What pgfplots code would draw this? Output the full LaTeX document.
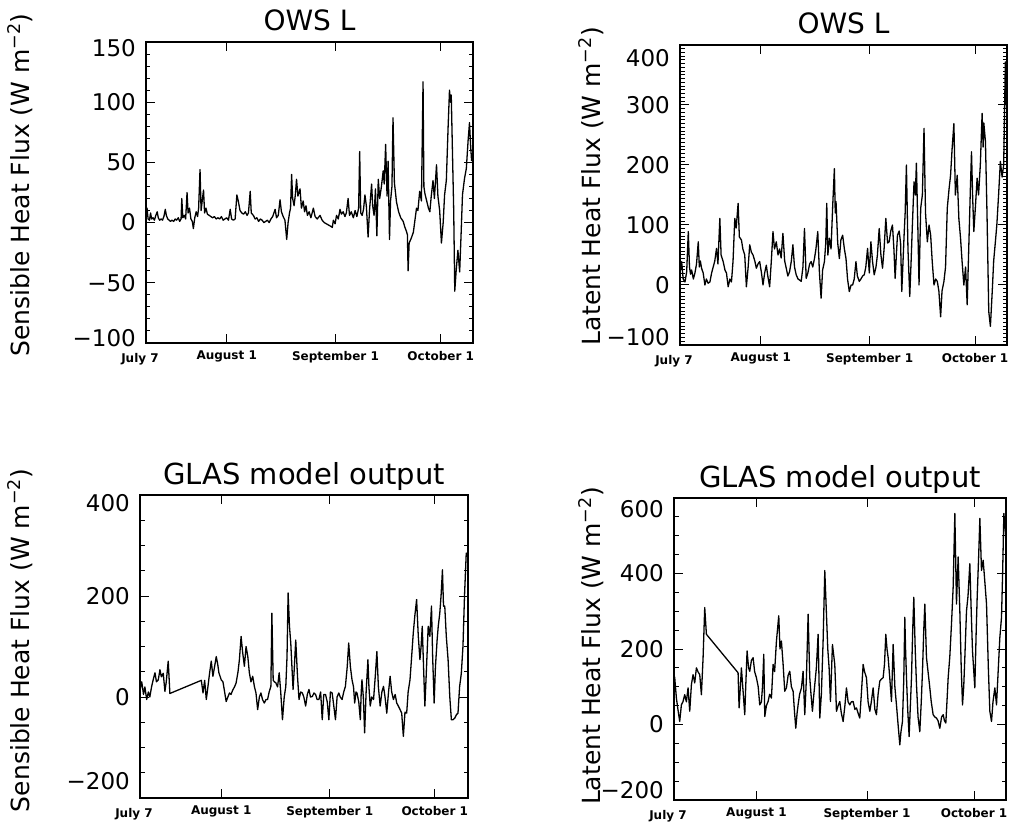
\documentclass[border=0pt]{standalone}
\usepackage{fontspec}
\setmainfont{DejaVu Sans}
\usepackage{pgfplots}
\pgfplotsset{compat=1.18}

\pgfplotstableread{
x y
8.0 5
8.3 12
8.6 3
9.0 2
9.3 8
9.6 3
10.0 4
10.4 2
10.8 6
11.2 9
11.5 4
11.9 2
12.3 3
12.7 2
13.1 5
13.5 11
13.8 6
14.2 3
14.6 2
15.0 1
15.4 2
15.9 1
16.3 3
16.7 2
17.2 4
17.6 1
18.0 3
18.2 20
18.5 4
18.9 6
19.3 3
19.7 25
20.0 8
20.4 12
20.8 3
21.2 1
21.5 -5
21.9 4
22.3 9
22.7 5
23.0 12
23.4 44
23.7 10
24.1 20
24.4 27
24.7 8
25.1 12
25.5 7
26.0 6
26.5 5
27.0 4
27.5 5
28.0 3
28.5 4
29.0 3
29.5 5
30.0 2
30.5 3
31.0 4
31.5 2
32.0 11
32.4 3
32.9 2
33.4 3
33.9 23
34.3 18
34.8 10
35.3 8
35.8 7
36.3 9
36.8 6
37.2 8
37.7 26
38.0 8
38.6 6
39.1 3
39.6 4
40.1 1
40.6 3
41.1 2
41.6 0
42.1 1
42.6 2
43.1 0
43.6 3
44.1 5
44.8 11
45.2 4
45.7 6
46.2 19
46.6 9
47.1 5
47.6 2
48.1 -14
48.5 0
48.9 8
49.2 12
49.5 40
49.8 20
50.2 14
50.6 24
50.9 36
51.3 22
51.9 28
52.3 12
52.8 18
53.2 9
53.6 14
54.0 6
54.5 9
55.0 4
55.7 12
56.2 5
56.8 3
57.6 6
58.2 2
58.8 0
59.4 -1
60.0 -2
60.6 -3
61.1 -4
61.4 2
61.9 -1
62.3 6
62.8 3
63.3 11
63.7 7
64.2 9
64.7 5
65.1 8
65.6 20
66.0 6
66.5 9
67.1 4
67.6 10
68.1 5
68.6 12
68.9 59
69.2 8
69.6 6
70.0 11
70.4 23
70.8 14
71.3 -12
71.7 10
72.3 32
72.6 14
73.0 6
73.4 28
73.8 -11
74.2 36
74.6 20
75.1 30
75.6 43
75.9 32
76.3 65
76.7 22
77.0 51
77.4 -14
77.7 18
78.1 30
78.4 87
78.8 33
79.4 17
80.0 9
80.6 4
81.3 1
81.8 -4
82.2 -7
82.5 -10
82.7 -40
83.0 -17
83.6 -13
84.2 -8
85.1 12
85.5 10
86.0 26
86.5 18
86.96 117
87.2 30
87.5 24
88.0 18
88.5 12
88.9 9
89.3 22
89.8 35
90.2 20
90.8 48
91.2 22
91.7 10
92.2 -17
92.7 0
93.1 23
93.6 35
94.1 79
94.5 110
94.8 100
95.0 106
95.4 51
95.7 10
96.0 -57
96.4 -40
96.9 -23
97.4 -41
97.8 -10
98.2 23
98.8 37
99.3 45
99.8 68
100.2 83
100.5 65
100.8 51
}\owsSH

\pgfplotstableread{
x y
8.0 20
8.47 39
8.9 10
9.42 5
9.9 22
10.36 89
10.7 30
11.0 18
11.31 25
11.8 10
12.25 20
12.7 35
13.20 72
13.5 30
13.8 40
14.14 28
14.6 20
15.09 0
15.5 10
16.0 3
16.51 5
17.0 20
17.45 30
17.9 40
18.40 61
18.8 35
19.34 111
19.7 50
20.29 39
20.8 25
21.23 20
21.71 -3
22.2 10
22.65 5
23.1 40
23.60 111
24.0 95
24.54 136
24.9 80
25.49 75
25.9 60
26.43 50
26.90 -3
27.4 30
27.85 67
28.3 55
28.79 50
29.3 40
29.74 28
30.2 35
30.68 39
31.2 20
31.63 0
32.1 20
32.57 33
33.0 15
33.52 -3
34.0 40
34.47 89
34.9 60
35.41 72
35.9 50
36.36 60
36.8 45
37.30 86
37.8 40
38.25 28
38.7 15
39.19 22
39.7 40
40.14 67
40.6 30
41.08 17
41.6 10
42.1 8
42.50 6
43.0 30
43.44 94
43.92 11
44.4 20
44.9 35
45.33 39
45.8 30
46.28 44
46.7 60
47.22 89
47.7 20
48.17 -22
48.6 25
49.12 39
49.5 70
49.78 136
50.1 50
50.53 78
51.0 60
51.48 133
51.95 194
52.2 120
52.42 139
52.9 70
53.37 44
53.8 75
54.31 83
54.8 60
55.26 44
55.7 10
56.20 -11
56.7 0
57.15 0
57.6 10
58.09 39
58.5 15
59.04 6
59.5 10
60.0 15
60.46 17
60.9 30
61.40 61
61.9 20
62.35 72
62.8 40
63.29 17
63.8 30
64.2 50
64.71 94
65.2 50
65.66 28
66.1 60
66.60 111
67.1 70
67.55 72
68.0 90
68.49 100
68.9 60
69.25 11
69.6 50
69.91 83
70.4 90
70.8 70
71.14 -11
71.5 40
71.80 83
72.1 120
72.46 200
72.9 60
73.41 -19
73.8 40
74.16 100
74.63 172
75.0 150
75.30 203
75.7 100
76.05 0
76.53 128
77.0 150
77.47 261
77.9 120
78.42 72
78.9 100
79.36 83
79.8 40
80.31 0
80.8 10
81.25 6
81.7 -10
82.20 -53
82.6 -10
83.14 6
83.6 30
84.09 128
84.6 160
85.03 183
85.5 230
85.98 269
86.4 150
86.92 183
87.4 110
87.87 78
88.3 40
88.81 0
89.3 30
89.76 -33
90.2 60
90.70 167
90.99 222
91.3 150
91.65 89
92.1 130
92.59 178
93.0 150
93.5 200
94.01 286
94.3 230
94.5 270
94.96 239
95.4 120
95.90 -44
96.37 -69
96.9 -10
97.3 40
97.79 72
98.2 100
98.7 150
99.21 206
99.7 180
100.15 200
100.63 372
100.9 300
}\owsLH

\pgfplotstableread{
x y
7.82 14
8.3 30
8.8 5
9.2 20
9.71 -5
10.2 10
10.6 0
11.13 21
11.6 35
12.08 48
12.5 30
13.02 34
13.50 54
13.9 40
14.44 47
14.92 11
15.3 30
15.86 71
16.34 7
25.32 33
25.80 8
26.27 33
26.74 -5
27.2 20
27.69 48
28.16 71
28.63 41
29.1 60
29.58 80
30.0 65
30.34 48
31.00 34
31.5 30
31.95 11
32.42 -9
32.9 0
33.37 8
33.8 5
34.31 14
34.8 20
35.26 28
35.8 50
36.20 74
36.68 120
37.1 90
37.62 61
38.10 100
38.6 80
39.04 48
39.5 30
39.99 41
40.5 20
40.93 8
41.41 -25
41.9 0
42.35 8
42.8 -5
43.30 -12
43.8 -5
44.24 -5
44.7 10
45.19 21
45.47 166
45.85 33
46.2 30
46.61 28
47.1 20
47.56 48
48.0 10
48.50 -45
49.0 0
49.45 21
49.8 80
50.11 206
50.5 140
50.87 107
51.2 60
51.53 15
51.9 60
52.29 113
52.8 40
53.23 -5
53.7 10
54.18 8
54.6 0
55.12 -18
55.6 5
56.07 15
56.5 0
57.02 1
57.5 8
57.96 5
58.4 -5
58.91 -5
59.4 10
59.86 -45
60.3 5
60.80 5
61.3 -10
61.75 -45
62.2 10
62.69 8
63.2 -20
63.64 -45
64.1 0
64.59 8
65.0 0
65.53 -5
66.0 10
66.48 21
67.0 60
67.42 107
67.9 60
68.37 34
68.8 20
69.13 -12
69.5 10
69.79 8
70.3 -10
70.74 -45
71.0 10
71.21 34
71.6 0
71.97 -71
72.4 10
72.91 74
73.2 20
73.57 -18
74.0 0
74.52 -5
75.0 40
75.47 90
75.9 20
76.41 -18
76.9 10
77.36 21
77.8 0
78.30 -32
78.8 10
79.25 41
79.7 10
80.20 -5
80.7 5
81.14 -12
81.61 -18
82.1 -25
82.56 -32
83.03 -78
83.5 -30
83.98 -32
84.4 10
84.93 34
85.4 80
85.87 127
86.3 160
86.82 193
87.3 120
87.77 74
88.1 100
88.43 140
88.8 60
89.18 -18
89.6 50
90.13 140
90.6 120
91.07 180
91.4 80
91.83 -12
92.2 60
92.68 113
93.0 140
93.44 166
93.8 200
94.20 252
94.5 180
94.86 180
95.3 120
95.81 74
96.3 0
96.75 -45
97.2 -45
97.70 -42
98.2 -35
98.64 -32
99.1 20
99.59 47
100.06 100
100.5 200
101.0 285
101.3 279
}\glasSH

\pgfplotstableread{
x y
7.9 130
8.10 124
8.57 70
9.0 40
9.50 8
9.97 52
10.4 60
10.91 79
11.37 60
11.84 97
12.31 35
12.78 106
13.24 132
13.71 110
14.18 150
14.6 140
15.11 132
15.58 79
16.05 177
16.51 310
16.98 239
25.86 137
26.14 44
26.5 100
26.79 150
27.26 88
27.73 26
28.0 100
28.38 195
28.8 150
29.13 141
29.6 170
30.07 177
30.5 140
31.00 124
31.5 100
31.93 52
32.40 60
32.7 100
33.06 186
33.34 21
33.8 50
34.27 61
34.7 80
35.21 70
35.67 159
36.1 140
36.61 221
37.26 288
37.6 200
38.01 221
38.48 159
38.94 88
39.41 97
39.88 130
40.35 141
40.8 100
41.28 88
41.7 30
42.03 -10
42.4 30
42.68 52
43.1 80
43.62 97
44.08 141
44.55 26
45.0 120
45.49 292
45.95 124
46.3 80
46.70 35
47.0 70
47.36 106
47.8 150
48.29 239
48.76 17
49.2 80
49.69 221
50.16 408
50.63 292
51.0 200
51.37 150
51.75 61
52.31 212
52.96 159
53.2 100
53.43 35
53.9 50
54.36 61
54.8 30
55.30 8
55.8 50
56.23 97
56.7 60
57.17 52
57.6 60
58.10 61
58.6 40
59.04 44
59.5 30
59.97 17
60.4 80
60.91 159
61.3 140
61.84 124
62.3 60
62.78 35
63.2 60
63.71 97
64.2 40
64.64 26
65.1 80
65.58 115
66.0 120
66.51 124
66.9 160
67.26 239
67.6 200
67.92 177
68.4 120
68.85 61
69.32 212
69.8 100
70.25 52
70.7 0
71.19 -54
71.5 -20
71.93 8
72.3 120
72.59 284
72.8 200
73.06 124
73.4 40
73.80 -32
74.1 40
74.46 124
74.8 250
75.11 337
75.5 200
75.86 106
76.3 20
76.79 -19
77.2 60
77.54 141
77.9 250
78.20 319
78.66 177
79.1 140
79.60 97
80.0 60
80.53 26
81.0 20
81.47 17
81.9 10
82.40 -10
82.9 20
83.34 26
83.7 10
84.08 4
84.4 60
84.74 124
85.2 180
85.67 266
86.14 364
86.61 559
87.07 319
87.54 444
88.01 301
88.4 150
88.76 52
89.1 100
89.41 177
89.88 301
90.3 340
90.81 426
91.2 300
91.56 195
92.21 97
92.6 250
92.87 337
93.3 450
93.62 546
94.08 408
94.55 435
95.0 380
95.49 319
96.0 150
96.42 35
96.89 8
97.3 60
97.82 97
98.29 52
98.8 150
99.22 230
99.69 284
100.0 400
100.35 559
100.91 497
}\glasLH

\pgfplotsset{
  panel/.style={
    scale only axis,
    tick pos=both,
    tick align=inside,
    axis line style={line width=1.4pt},
    every tick/.style={black, line width=1pt},
    major tick length=9pt,
    minor tick length=4.5pt,
    xtick={31,62,92},
    xticklabels={August 1,September 1,October 1},
    minor x tick num=0,
    xticklabel style={font=\fontsize{12}{14}\selectfont\bfseries, inner sep=0pt, yshift=-8pt},
    extra x tick labels={July 7},
    extra x tick style={major tick length=0pt, xticklabel style={xshift=-6pt, yshift=-2pt}},
    yticklabel style={font=\fontsize{23}{26}\selectfont, inner sep=0pt, xshift=-10pt},
    ylabel style={font=\fontsize{25}{28}\selectfont, anchor=center},
    title style={font=\fontsize{28}{32}\selectfont, at={(axis description cs:0.5,1)}, anchor=base, yshift=5pt},
  },
  curve/.style={black, mark=none, line width=1.3pt, line join=round},
}
% labels of the end ticks, set apart from the ticks as in the reference
\newcommand{\rl}[2]{\raisebox{#1}[0pt][0pt]{#2}}

\begin{document}
\begin{tikzpicture}
\useasboundingbox (0pt,0pt) rectangle (1012pt,828pt);

% Top-left
\begin{axis}[panel,
  at={(146pt,485pt)}, anchor=south west,
  width=327pt, height=301pt,
  xmin=8, xmax=101.2, ymin=-100, ymax=150,
  extra x ticks={8},
  ytick={-50,0,50,100},
  yticklabels={−50,0,50,100},
  extra y ticks={-100,150},
  extra y tick labels={\rl{-3.4pt}{−100},\rl{-14.4pt}{150}},
  minor ytick={-90,-80,...,140},
  title={OWS L},
  ylabel={Sensible Heat Flux (W m\textsuperscript{−2})},
  ylabel style={at={(axis description cs:-0.385,0.525)}},
]
\addplot[curve] table {\owsSH};
\end{axis}

% Top-right
\begin{axis}[panel,
  at={(680pt,483pt)}, anchor=south west,
  width=327pt, height=300pt,
  xmin=8, xmax=101.1, ymin=-100, ymax=400,
  extra x ticks={8},
  ytick={0,100,200,300},
  yticklabels={0,100,200,300},
  extra y ticks={-100,400},
  extra y tick labels={\rl{-0.4pt}{−100},\rl{-22pt}{400}},
  minor ytick={-100,-93.75,...,400},
  title={OWS L},
  ylabel={Latent Heat Flux (W m\textsuperscript{−2})},
  ylabel style={at={(axis description cs:-0.272,0.53)}},
]
\addplot[curve] table {\owsLH};
\end{axis}

% Bottom-left
\begin{axis}[panel,
  at={(140pt,30pt)}, anchor=south west,
  width=328pt, height=303pt,
  xmin=7.8, xmax=101.5, ymin=-200, ymax=400,
  extra x ticks={7.8},
  ytick={0,200},
  yticklabels={0,200},
  extra y ticks={-200,400},
  extra y tick labels={\rl{8.6pt}{−200},\rl{-16.4pt}{400}},
  minor ytick={-150,-100,...,350},
  title={GLAS model output},
  title style={font=\fontsize{29}{32}\selectfont},
  ylabel={Sensible Heat Flux (W m\textsuperscript{−2})},
  ylabel style={at={(axis description cs:-0.366,0.52)}},
]
\addplot[curve] table {\glasSH};
\end{axis}

% Bottom-right
\begin{axis}[panel,
  at={(674pt,28pt)}, anchor=south west,
  width=332pt, height=302pt,
  xmin=7.9, xmax=100.95, ymin=-200, ymax=600,
  extra x ticks={7.9},
  ytick={0,200,400},
  yticklabels={0,200,400},
  extra y ticks={-200,600},
  extra y tick labels={\rl{1.6pt}{−200},\rl{-19.4pt}{600}},
  minor ytick={-150,-100,...,550},
  title={GLAS model output},
  title style={font=\fontsize{29}{32}\selectfont},
  ylabel={Latent Heat Flux (W m\textsuperscript{−2})},
  ylabel style={at={(axis description cs:-0.25,0.51)}},
]
\addplot[curve] table {\glasLH};
\end{axis}
\end{tikzpicture}
\end{document}
